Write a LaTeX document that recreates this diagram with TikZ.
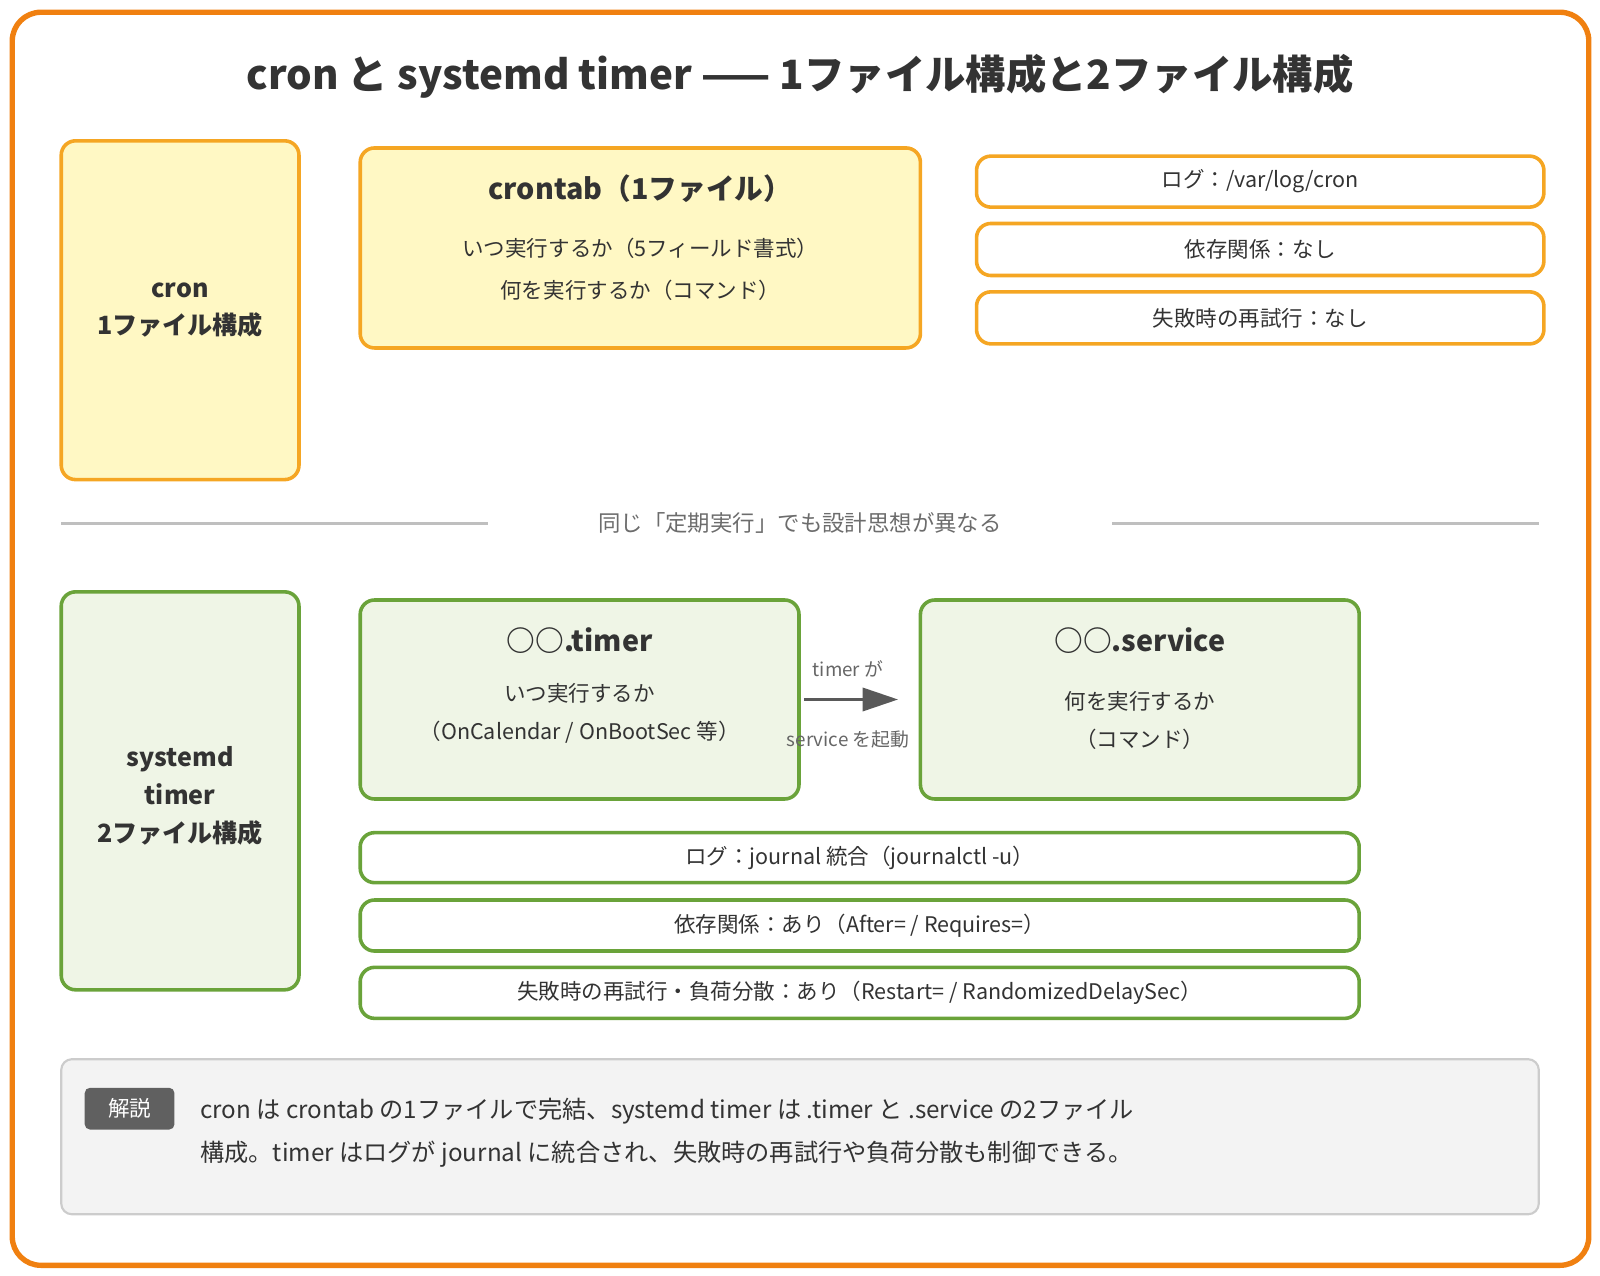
\documentclass[tikz,border=0pt]{standalone}
\usepackage{fontspec}
\setmainfont{Noto Sans CJK JP}
\usetikzlibrary{positioning,arrows.meta}
\definecolor{frameorange}{HTML}{F08010}
\definecolor{cronline}{HTML}{F5A623}
\definecolor{cronfill}{HTML}{FFF8C4}
\definecolor{sysline}{HTML}{6AA33A}
\definecolor{sysfill}{HTML}{EFF5E6}
\definecolor{notefill}{HTML}{F3F3F3}
\definecolor{textdark}{HTML}{333333}
\tikzset{
  px/.style={x=0.02cm,y=-0.02cm},
  box/.style={rounded corners=8pt,line width=2pt,align=center,text=textdark,inner sep=0pt},
  cronbox/.style={box,draw=cronline,fill=cronfill},
  cronitem/.style={box,draw=cronline,fill=white,font=\fontsize{12}{14}\selectfont},
  sysbox/.style={box,draw=sysline,fill=sysfill},
  sysitem/.style={box,draw=sysline,fill=white,font=\fontsize{12}{14}\selectfont},
  head/.style={font=\bfseries\fontsize{16}{19}\selectfont,text=textdark},
  body/.style={font=\fontsize{12}{23}\selectfont,text=textdark,align=center},
  side/.style={font=\bfseries\fontsize{14}{21}\selectfont,text=textdark,align=center},
}
\begin{document}
\begin{tikzpicture}[px]
  \useasboundingbox (0,0) rectangle (1568,1250);
  % frame
  \draw[frameorange,line width=3pt,rounded corners=16pt] (12,12) rectangle (1557,1240);
  \node[font=\bfseries\fontsize{22.5}{26}\selectfont,text=textdark] (title) at (784,75)
    {cron と systemd timer —— 1ファイル構成と2ファイル構成};

  % cron side
  \node[cronbox,minimum width=233*0.02cm,minimum height=332*0.02cm] (cron) at (176.5,304) {};
  \node[side] at (cron) {cron\\1ファイル構成};
  \node[cronbox,minimum width=549*0.02cm,minimum height=196*0.02cm] (crontab) at (627.5,243) {};
  \node[head] (crontabhead) at (627.5,185) {crontab（1ファイル）};
  \node[body] at (627.5,264) {いつ実行するか（5フィールド書式）\\何を実行するか（コマンド）};
  \node[cronitem,minimum width=556*0.02cm,minimum height=50*0.02cm] (log) at (1235,178) {ログ：/var/log/cron};
  \node[cronitem,minimum width=556*0.02cm,minimum height=51*0.02cm] (dep) at (1235,244.5) {依存関係：なし};
  \node[cronitem,minimum width=556*0.02cm,minimum height=51*0.02cm] (retry) at (1235,311.5) {失敗時の再試行：なし};

  % separator
  \node[font=\fontsize{12.5}{14}\selectfont,text=gray!85!black] (sep) at (784,513) {同じ「定期実行」でも設計思想が異なる};
  \draw[gray!50,line width=1.5pt] (60,513) -- (478,513);
  \draw[gray!50,line width=1.5pt] (1090,513) -- (1508,513);

  % systemd side
  \node[sysbox,minimum width=233*0.02cm,minimum height=390*0.02cm] (systemd) at (176.5,775) {};
  \node[side] at ([yshift=-0.1cm]systemd.center) {systemd\\timer\\2ファイル構成};
  \node[sysbox,minimum width=430*0.02cm,minimum height=195*0.02cm] (timer) at (568,685.5) {};
  \node[head] at (568,628) {○○.timer};
  \node[body,font=\fontsize{12}{21}\selectfont] at (568,699) {いつ実行するか\\（OnCalendar / OnBootSec 等）};
  \node[sysbox,minimum width=430*0.02cm,minimum height=195*0.02cm] (service) at (1117,685.5) {};
  \node[head] at (1117,628) {○○.service};
  \node[body,font=\fontsize{12}{21}\selectfont] at (1117,706) {何を実行するか\\（コマンド）};
  \draw[-{Triangle[length=0.7cm,width=0.45cm]},line width=2.2pt,gray!70!black] (timer.east) ++(3,0) coordinate (a0) -- ([xshift=-20*0.02cm]service.west) coordinate (a1);
  \node[font=\fontsize{10.5}{12}\selectfont,text=gray!80!black] at (831,655) {timer が};
  \node[font=\fontsize{10.5}{12}\selectfont,text=gray!80!black] at (831,725) {service を起動};
  \node[sysitem,minimum width=979*0.02cm,minimum height=49*0.02cm] (jlog) at (842.5,840.5) {ログ：journal 統合（journalctl -u）};
  \node[sysitem,minimum width=979*0.02cm,minimum height=50*0.02cm] (jdep) at (842.5,907) {依存関係：あり（After= / Requires=）};
  \node[sysitem,minimum width=979*0.02cm,minimum height=50*0.02cm] (jretry) at (842.5,973) {失敗時の再試行・負荷分散：あり（Restart= / RandomizedDelaySec）};

  % note
  \draw[gray!40,fill=notefill,line width=1.2pt,rounded corners=6pt] (60,1038) rectangle (1508,1190);
  \node[fill=gray!75!black,text=white,rounded corners=3pt,minimum width=88*0.02cm,minimum height=41*0.02cm,font=\fontsize{12}{14}\selectfont] (tag) at (127,1086.5) {解説};
  \node[anchor=north west,align=left,text=textdark,font=\fontsize{13.5}{24}\selectfont,inner sep=0pt] (note) at (196,1076)
    {cron は crontab の1ファイルで完結、systemd timer は .timer と .service の2ファイル\\構成。timer はログが journal に統合され、失敗時の再試行や負荷分散も制御できる。};
\end{tikzpicture}
\end{document}
